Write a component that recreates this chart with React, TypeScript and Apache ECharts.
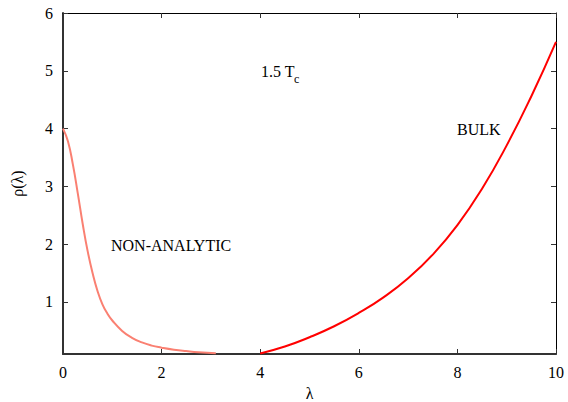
import React, { useEffect, useRef } from "react";
import * as echarts from "echarts";

const nonAnalyticX = [0, 0.1, 0.2, 0.3, 0.4, 0.5, 0.6, 0.7, 0.8, 0.9, 1.0, 1.2, 1.4, 1.6, 1.8, 2.0, 2.25, 2.5, 2.75, 3.1];
const nonAnalyticY = [4.0, 3.78, 3.38, 2.88, 2.35, 1.88, 1.5, 1.19, 0.96, 0.8, 0.68, 0.5, 0.38, 0.3, 0.245, 0.21, 0.175, 0.15, 0.13, 0.115];

const bulkX = [4, 4.5, 5, 5.5, 6, 6.5, 7, 7.5, 8, 8.5, 9, 9.5, 10];
const bulkY = [0.11, 0.23, 0.39, 0.58, 0.81, 1.08, 1.41, 1.82, 2.33, 2.96, 3.71, 4.56, 5.5];

const yTicks = [1, 2, 3, 4, 5, 6];
const xTicks = [0, 2, 4, 6, 8, 10];

const FONT = "'Liberation Serif', 'Times New Roman', Times, serif";

export default function App() {
  const ref = useRef<HTMLDivElement>(null);
  useEffect(() => {
    if (!ref.current) return;
    const chart = echarts.init(ref.current, null, { renderer: "svg" });
    const textStyle = { fontFamily: FONT, fontSize: 16, color: "#000" };
    const annot = (text: string, x: number, y: number, size = 16) => ({
      type: "text",
      x,
      y,
      style: {
        text,
        font: `${size}px ${FONT}`,
        fill: "#000",
        textAlign: "left",
        textVerticalAlign: "middle",
      },
    });
    chart.setOption({
      animation: false,
      grid: { left: 63, right: 12, top: 13, bottom: 48, containLabel: false, outerBoundsMode: "none" },
      xAxis: [
        {
          type: "value",
          min: 0,
          max: 10,
          interval: 2,
          name: "λ",
          nameLocation: "middle",
          nameGap: 31,
          nameTextStyle: { ...textStyle, lineHeight: 16 },
          axisLine: { show: true, onZero: false, lineStyle: { color: "#333", width: 2 } },
          axisTick: { show: true, inside: true, length: 5, lineStyle: { color: "#333", width: 1 } },
          axisLabel: { ...textStyle, margin: 10, customValues: xTicks },
          splitLine: { show: false },
        },
        {
          type: "value",
          position: "top",
          min: 0,
          max: 10,
          interval: 2,
          axisLine: { show: true, onZero: false, lineStyle: { color: "#000", width: 1 } },
          axisTick: { show: true, inside: true, length: 5, lineStyle: { color: "#333", width: 1 } },
          axisLabel: { show: false },
          splitLine: { show: false },
        },
      ],
      yAxis: [
        {
          type: "value",
          min: 0.1,
          max: 6,
          name: "ρ(λ)",
          nameLocation: "middle",
          nameGap: 38,
          nameTextStyle: textStyle,
          axisLine: { show: true, onZero: false, lineStyle: { color: "#333", width: 2 } },
          axisTick: { show: true, inside: true, length: 5, customValues: yTicks, lineStyle: { color: "#333", width: 1 } },
          axisLabel: { ...textStyle, margin: 10, customValues: yTicks },
          splitLine: { show: false },
        },
        {
          type: "value",
          position: "right",
          min: 0.1,
          max: 6,
          axisLine: { show: true, onZero: false, lineStyle: { color: "#000", width: 1 } },
          axisTick: { show: true, inside: true, length: 5, customValues: yTicks, lineStyle: { color: "#333", width: 1 } },
          axisLabel: { show: false },
          splitLine: { show: false },
        },
      ],
      series: [
        {
          name: "NON-ANALYTIC",
          type: "line",
          data: nonAnalyticX.map((x, i) => [x, nonAnalyticY[i]]),
          smooth: true,
          showSymbol: false,
          lineStyle: { color: "#fa8072", width: 2 },
          itemStyle: { color: "#fa8072" },
        },
        {
          name: "BULK",
          type: "line",
          data: bulkX.map((x, i) => [x, bulkY[i]]),
          smooth: true,
          showSymbol: false,
          lineStyle: { color: "#ff0000", width: 2 },
          itemStyle: { color: "#ff0000" },
        },
      ],
      graphic: [
        annot("1.5 T", 261, 71),
        annot("c", 294, 79, 12),
        annot("NON-ANALYTIC", 111, 245),
        annot("BULK", 457, 129),
      ],
    });
    return () => chart.dispose();
  }, []);
  return <div ref={ref} style={{ width: 568, height: 402, position: "absolute", left: 0, top: 0 }} />;
}
